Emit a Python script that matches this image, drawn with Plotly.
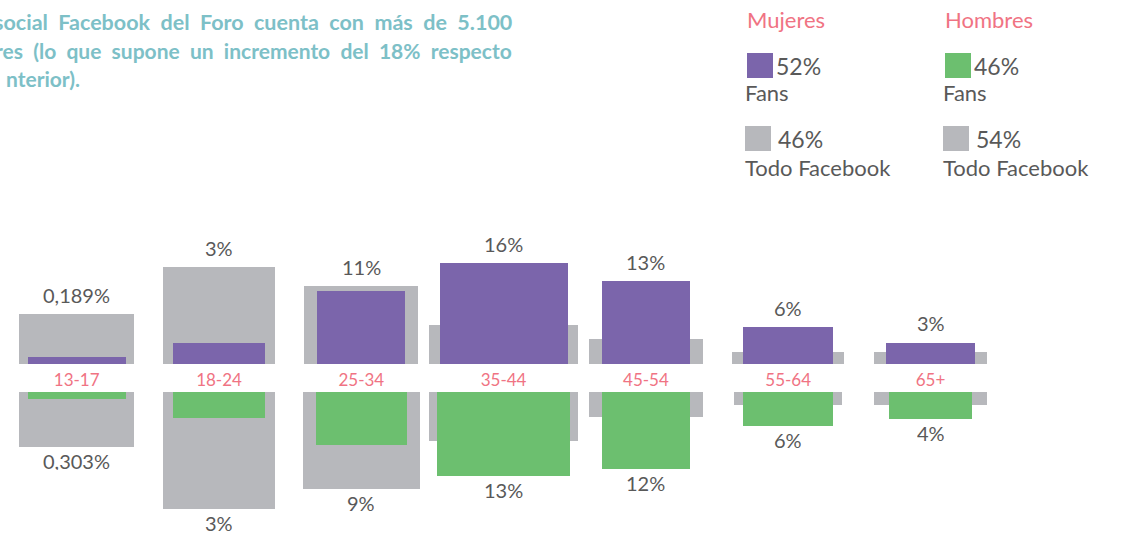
import plotly.graph_objects as go

# ---------------- data ----------------
categories = ["13-17", "18-24", "25-34", "35-44", "45-54", "55-64", "65+"]
mujeres_fans = [1.1, 3.4, 11.4, 15.8, 13.0, 5.8, 3.4]     # purple (upper)
mujeres_fb = [7.8, 15.2, 12.2, 6.1, 3.9, 2.0, 2.0]        # grey (upper)
hombres_fans = [1.1, 4.1, 8.3, 13.1, 12.0, 5.3, 4.2]      # green (lower)
hombres_fb = [8.6, 18.3, 15.2, 7.7, 3.9, 2.0, 2.0]        # grey (lower)
mujeres_labels = ["0,189%", "3%", "11%", "16%", "13%", "6%", "3%"]
hombres_labels = ["0,303%", "3%", "9%", "13%", "12%", "6%", "4%"]
legend_groups = ["Mujeres", "Hombres"]
legend_fans = ["52%", "46%"]
legend_fb = ["46%", "54%"]
title_lines = [
    "social Facebook del Foro cuenta con más de 5.100",
    "res (lo que supone un incremento del 18% respecto",
    "nterior).",
]

# ---------------- styles ----------------
W, H = 1121, 534
PURPLE = "#7B65AB"
GREEN = "#6CBF6F"
GREY = "#B7B8BC"
PINK = "#F07383"
TEAL = "#7DC0C7"
DARK = "#595959"
FONT = "Lato"

w_grey_up = [0.81, 0.79, 0.80, 1.05, 0.80, 0.79, 0.80]
w_fan_up = [0.69, 0.65, 0.62, 0.90, 0.62, 0.63, 0.63]
w_grey_dn = [0.81, 0.79, 0.82, 1.05, 0.80, 0.76, 0.80]
w_fan_dn = [0.69, 0.65, 0.64, 0.93, 0.62, 0.63, 0.59]


def px_x(p):
    return p / W


def px_y(p):
    return 1 - p / H


fig = go.Figure()
fig.add_trace(go.Bar(x=categories, y=mujeres_fb, width=w_grey_up, marker_color=GREY,
                     marker_line_width=0, xaxis="x", yaxis="y", hoverinfo="skip"))
fig.add_trace(go.Bar(x=categories, y=mujeres_fans, width=w_fan_up, marker_color=PURPLE,
                     marker_line_width=0, xaxis="x", yaxis="y", hoverinfo="skip"))
fig.add_trace(go.Bar(x=categories, y=hombres_fb, width=w_grey_dn, marker_color=GREY,
                     marker_line_width=0, xaxis="x", yaxis="y2", hoverinfo="skip"))
fig.add_trace(go.Bar(x=categories, y=hombres_fans, width=w_fan_dn, marker_color=GREEN,
                     marker_line_width=0, xaxis="x", yaxis="y2", hoverinfo="skip"))

annotations = []
for c, a, b, lab in zip(categories, mujeres_fans, mujeres_fb, mujeres_labels):
    annotations.append(dict(x=c, y=max(a, b), xref="x", yref="y", text=lab,
                            yanchor="bottom", yshift=5, showarrow=False,
                            font=dict(family=FONT, size=20, color=DARK)))
for c, a, b, lab in zip(categories, hombres_fans, hombres_fb, hombres_labels):
    annotations.append(dict(x=c, y=max(a, b), xref="x", yref="y2", text=lab,
                            yanchor="top", yshift=-3, height=18, showarrow=False,
                            font=dict(family=FONT, size=20, color=DARK)))

# title text (cropped, justified block)
nb = "\u00a0"
title_y = [22, 50, 78]
title_size = [21.5, 21, 21]
for i, (line, yy, fs) in enumerate(zip(title_lines, title_y, title_size)):
    txt = line if i == 2 else line.replace(" ", nb * 2)
    right = 82 if i == 2 else 514
    annotations.append(dict(x=px_x(right), y=px_y(yy), xref="paper", yref="paper",
                            xanchor="right", yanchor="middle", text="<b>" + txt + "</b>",
                            showarrow=False, font=dict(family=FONT, size=fs, color=TEAL)))

# legend block
shapes = []
leg_left = [745, 943]
fan_colors = [PURPLE, GREEN]
for g, left, col, fpct, bpct in zip(legend_groups, leg_left, fan_colors, legend_fans, legend_fb):
    annotations.append(dict(x=px_x(left), y=px_y(20), xref="paper", yref="paper",
                            xanchor="left", yanchor="middle", text=g, showarrow=False,
                            font=dict(family=FONT, size=22, color=PINK)))
    shapes.append(dict(type="rect", xref="paper", yref="paper",
                       x0=px_x(left + 2), x1=px_x(left + 28), y0=px_y(78), y1=px_y(53),
                       fillcolor=col, line_width=0))
    annotations.append(dict(x=px_x(left + 29), y=px_y(66), xref="paper", yref="paper",
                            xanchor="left", yanchor="middle", text=fpct, showarrow=False,
                            font=dict(family=FONT, size=23, color=DARK)))
    annotations.append(dict(x=px_x(left - 2), y=px_y(93), xref="paper", yref="paper",
                            xanchor="left", yanchor="middle", text="Fans", showarrow=False,
                            font=dict(family=FONT, size=22, color=DARK)))
    shapes.append(dict(type="rect", xref="paper", yref="paper",
                       x0=px_x(left), x1=px_x(left + 26), y0=px_y(151), y1=px_y(126),
                       fillcolor=GREY, line_width=0))
    annotations.append(dict(x=px_x(left + 31), y=px_y(139), xref="paper", yref="paper",
                            xanchor="left", yanchor="middle", text=bpct, showarrow=False,
                            font=dict(family=FONT, size=23, color=DARK)))
    annotations.append(dict(x=px_x(left - 2), y=px_y(167), xref="paper", yref="paper",
                            xanchor="left", yanchor="middle", text="Todo Facebook",
                            showarrow=False, font=dict(family=FONT, size=22, color=DARK)))

spacing = 142.3
x0 = 76.7
xr0 = -x0 / spacing
xr1 = xr0 + W / spacing

fig.update_layout(
    width=W, height=H,
    margin=dict(l=0, r=0, t=0, b=0),
    paper_bgcolor="white", plot_bgcolor="white",
    barmode="overlay", bargap=0, showlegend=False,
    xaxis=dict(type="category", categoryorder="array", categoryarray=categories,
               range=[xr0, xr1], showgrid=False, zeroline=False, showline=False,
               ticks="", anchor="y", tickfont=dict(family=FONT, size=17, color=PINK),
               ticklabelstandoff=4, fixedrange=True),
    yaxis=dict(domain=[170 / H, 170 / H + 26 * 6.4 / H], range=[0, 26], visible=False,
               fixedrange=True),
    yaxis2=dict(domain=[142 / H - 20 * 6.4 / H, 142 / H], range=[20, 0], visible=False,
                anchor="x", fixedrange=True),
    annotations=annotations,
    shapes=shapes,
)

fig.write_html("out.html", config={"displayModeBar": False},
               post_script="document.body.style.margin='0';")
